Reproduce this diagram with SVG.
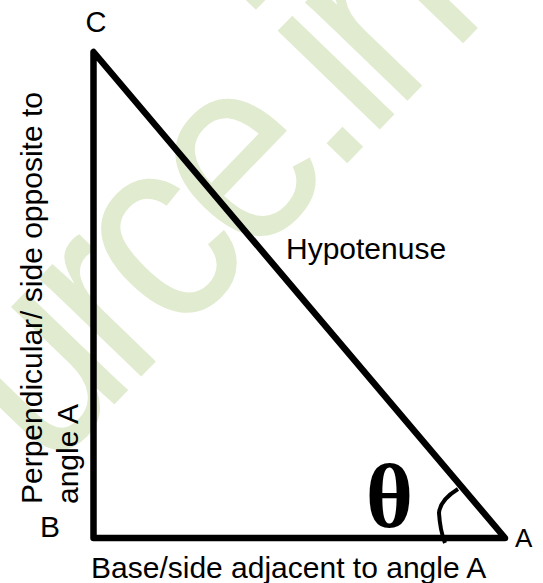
<svg xmlns="http://www.w3.org/2000/svg" width="543" height="583" viewBox="0 0 543 583">
<style>
.lbl{font-family:"Liberation Sans",Arial,sans-serif;fill:#000;}
.wm{font-family:"Liberation Sans",Arial,sans-serif;fill:#e1ebcf;}
.side{fill:none;stroke:#000;stroke-width:6.5;stroke-linejoin:round;}
</style>
<rect width="543" height="583" fill="#fff"/>
<g id="watermark">
<text class="wm" transform="translate(387,122) rotate(-46) scale(1,1.12)" x="-490" y="0" font-size="240" letter-spacing="-14">urce.in</text>
</g>
<g id="connectors">
<path class="side" d="M93.5,52 L93.5,538 L505,538 Z"/>
<path d="M458,489 Q440,500 439,513 Q440,530 445,543" fill="none" stroke="#000" stroke-width="4"/>
</g>
<g id="vertex-C"><text class="lbl" x="85.5" y="32" font-size="29">C</text></g>
<g id="vertex-B"><text class="lbl" x="40" y="537" font-size="30">B</text></g>
<g id="vertex-A"><text class="lbl" x="515" y="547" font-size="26">A</text></g>
<g id="hypotenuse"><text class="lbl" x="286" y="259" font-size="30">Hypotenuse</text></g>
<g id="base"><text class="lbl" x="91" y="578" font-size="30">Base/side adjacent to angle A</text></g>
<g id="perpendicular">
<text class="lbl" transform="translate(42,504) rotate(-90)" font-size="30">Perpendicular/ side opposite to</text>
<text class="lbl" transform="translate(78,504) rotate(-90)" font-size="30">angle A</text>
</g>
<g id="theta"><text x="389.5" y="527" font-size="91" font-weight="bold" text-anchor="middle" font-family="'Liberation Serif','Times New Roman',serif" fill="#000">θ</text></g>
</svg>
